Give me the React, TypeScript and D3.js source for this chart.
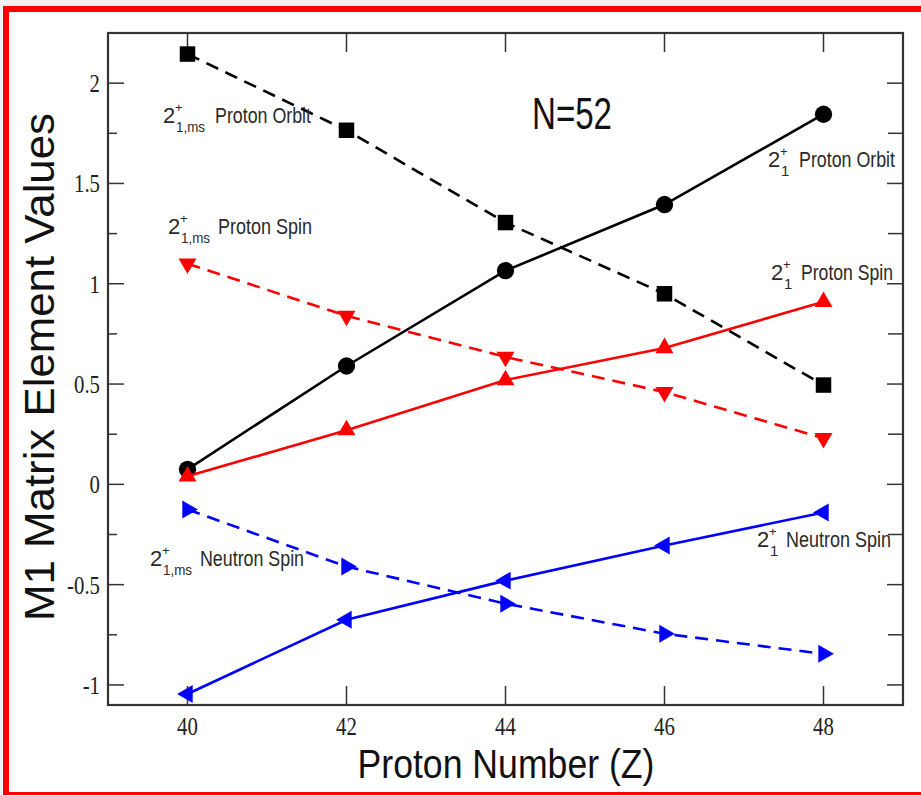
import React from 'react';
import * as d3 from 'd3';

// Proton number Z for the N=52 isotones
const protonNumbers = [40, 42, 44, 46, 48];

// M1 matrix element contributions
const protonOrbit = [0.075, 0.59, 1.065, 1.395, 1.845];
const protonOrbitMs = [2.145, 1.765, 1.305, 0.95, 0.495];
const protonSpin = [0.04, 0.27, 0.52, 0.68, 0.91];
const protonSpinMs = [1.1, 0.84, 0.635, 0.46, 0.23];
const neutronSpin = [-1.045, -0.675, -0.48, -0.305, -0.14];
const neutronSpinMs = [-0.125, -0.41, -0.595, -0.745, -0.845];

const xTicks = [40, 42, 44, 46, 48];
const yTicks = [-1, -0.5, 0, 0.5, 1, 1.5, 2];
const yTickLabels = ['-1', '-0.5', '0', '0.5', '1', '1.5', '2'];
const yMinorTicks = [-0.75, -0.25, 0.25, 0.75, 1.25, 1.75];

const W = 921;
const H = 795;
const plot = { left: 108, right: 903, top: 33, bottom: 705 };

const x = d3.scaleLinear().domain([39, 49]).range([plot.left, plot.right]);
const y = d3.scaleLinear().domain([-1.1, 2.25]).range([plot.bottom, plot.top]);

type Series = {
  values: number[];
  color: string;
  dashed: boolean;
  shape: 'circle' | 'square' | 'triangle';
  rotate: number;
};

const series: Series[] = [
  { values: protonOrbitMs, color: '#000', dashed: true, shape: 'square', rotate: 0 },
  { values: protonOrbit, color: '#000', dashed: false, shape: 'circle', rotate: 0 },
  { values: protonSpinMs, color: '#ff0000', dashed: true, shape: 'triangle', rotate: 180 },
  { values: protonSpin, color: '#ff0000', dashed: false, shape: 'triangle', rotate: 0 },
  { values: neutronSpinMs, color: '#0000ff', dashed: true, shape: 'triangle', rotate: 90 },
  { values: neutronSpin, color: '#0000ff', dashed: false, shape: 'triangle', rotate: -90 },
];

const symbolPath = (shape: Series['shape']) => {
  if (shape === 'circle') return d3.symbol(d3.symbolCircle, 235)()!;
  if (shape === 'square') return d3.symbol(d3.symbolSquare, 240)()!;
  return d3.symbol(d3.symbolTriangle, 140)()!;
};

// Curve annotations: "2" with stacked super/subscript, then the descriptive text
const annotations = [
  { x: 163, y: 123, sub: '1,ms', text: 'Proton Orbit', textX: 215, textLen: 96 },
  { x: 168, y: 234, sub: '1,ms', text: 'Proton Spin', textX: 218, textLen: 94 },
  { x: 768, y: 167, sub: '1', text: 'Proton Orbit', textX: 799, textLen: 96 },
  { x: 771, y: 280, sub: '1', text: 'Proton Spin', textX: 801, textLen: 92 },
  { x: 150, y: 566, sub: '1,ms', text: 'Neutron Spin', textX: 200, textLen: 104 },
  { x: 757, y: 547, sub: '1', text: 'Neutron Spin', textX: 786, textLen: 105 },
];

const narrow = '"Liberation Sans Narrow", "Liberation Sans", Arial, sans-serif';
const serif = '"Liberation Serif", "DejaVu Serif", serif';
const labelColor = '#2a2a2a';

export default function App() {
  const line = d3
    .line<number>()
    .x((_, i) => x(protonNumbers[i]))
    .y((d) => y(d));

  return (
    <svg
      width={W}
      height={H}
      style={{ position: 'absolute', left: 0, top: 0, display: 'block' }}
    >
      <rect x={0} y={0} width={W} height={H} fill="#f1f1f1" />
      <rect x={3} y={6} width={W} height={H} fill="#ff0000" />
      <rect x={9} y={12} width={W} height={780} fill="#ffffff" />

      {/* ticks */}
      <g stroke="#333" strokeWidth={1.5}>
        {xTicks.map((t) => (
          <g key={'xt' + t}>
            <line x1={x(t)} x2={x(t)} y1={plot.bottom} y2={plot.bottom - 19} />
            <line x1={x(t)} x2={x(t)} y1={plot.top} y2={plot.top + 19} />
          </g>
        ))}
        {yTicks.map((t) => (
          <g key={'yt' + t}>
            <line x1={plot.left} x2={plot.left + 16} y1={y(t)} y2={y(t)} />
            <line x1={plot.right} x2={plot.right - 16} y1={y(t)} y2={y(t)} />
          </g>
        ))}
        {yMinorTicks.map((t) => (
          <g key={'ym' + t}>
            <line x1={plot.left} x2={plot.left + 9} y1={y(t)} y2={y(t)} />
            <line x1={plot.right} x2={plot.right - 15} y1={y(t)} y2={y(t)} />
          </g>
        ))}
      </g>

      <rect
        x={plot.left}
        y={plot.top}
        width={plot.right - plot.left}
        height={plot.bottom - plot.top}
        fill="none"
        stroke="#333"
        strokeWidth={2.2}
      />

      {/* tick labels */}
      <g fontFamily={serif} fontSize={26} fill="#222">
        {xTicks.map((t) => (
          <text
            key={'xl' + t}
            transform={`translate(${x(t)},${735}) scale(0.8,1)`}
            textAnchor="middle"
          >
            {t}
          </text>
        ))}
        {yTicks.map((t, i) => (
          <text
            key={'yl' + t}
            transform={`translate(${plot.left - 8},${y(t) + 9}) scale(0.8,1)`}
            textAnchor="end"
          >
            {yTickLabels[i]}
          </text>
        ))}
      </g>

      {/* series */}
      {series.map((s, si) => (
        <g key={'s' + si}>
          <path
            d={line(s.values)!}
            fill="none"
            stroke={s.color}
            strokeWidth={2.6}
            strokeDasharray={s.dashed ? '13 8' : undefined}
          />
          {s.values.map((v, i) => (
            <path
              key={i}
              d={symbolPath(s.shape)}
              fill={s.color}
              transform={`translate(${x(protonNumbers[i])},${y(v)}) rotate(${s.rotate})`}
            />
          ))}
        </g>
      ))}

      {/* curve annotations */}
      <g fontFamily={narrow} fill={labelColor}>
        {annotations.map((a, i) => (
          <g key={'a' + i}>
            <text x={a.x} y={a.y} fontSize={22}>2</text>
            <text x={a.x + 12} y={a.y - 11} fontSize={13}>+</text>
            <text
              x={a.x + 13}
              y={a.y + 9}
              fontSize={15}
              textLength={a.sub.length > 1 ? 29 : undefined}
              lengthAdjust="spacingAndGlyphs"
            >
              {a.sub}
            </text>
            <text
              x={a.textX}
              y={a.y}
              fontSize={22}
              textLength={a.textLen}
              lengthAdjust="spacingAndGlyphs"
            >
              {a.text}
            </text>
          </g>
        ))}
      </g>

      <text
        x={532}
        y={129}
        fontFamily={narrow}
        fontSize={44}
        fill="#111"
        textLength={80}
        lengthAdjust="spacingAndGlyphs"
      >
        N=52
      </text>

      {/* axis titles */}
      <text
        x={(plot.left + plot.right) / 2 + 0.5}
        y={778}
        textAnchor="middle"
        fontFamily={narrow}
        fontSize={41}
        fill="#111"
        textLength={297}
        lengthAdjust="spacingAndGlyphs"
      >
        Proton Number (Z)
      </text>
      <text
        transform={`translate(54,367) rotate(-90)`}
        textAnchor="middle"
        fontFamily='"Liberation Sans", Arial, sans-serif'
        fontSize={42}
        fill="#111"
        textLength={508}
        lengthAdjust="spacingAndGlyphs"
      >
        M1 Matrix Element Values
      </text>
    </svg>
  );
}
